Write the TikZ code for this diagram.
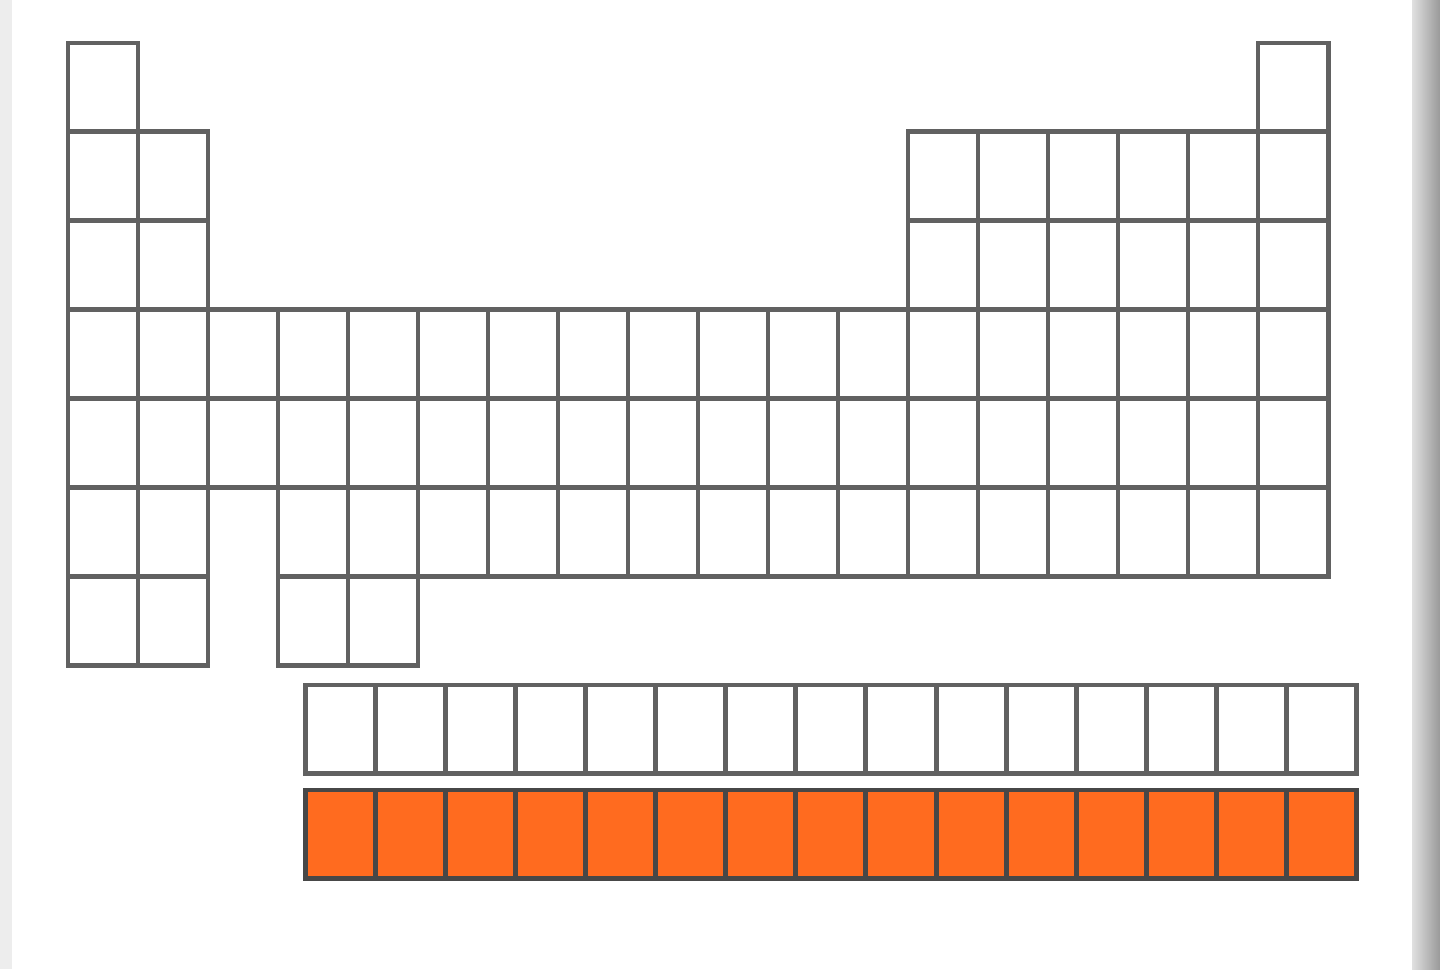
\documentclass[tikz,border=0pt]{standalone}
\usetikzlibrary{shadings}
\definecolor{actorange}{HTML}{FF6B1F}
\begin{document}
\begin{tikzpicture}
[ x=0.01cm, y=-0.01cm, line width=1.4pt
, cell/.style={rectangle, draw=black!62, fill=white, minimum width=7mm, minimum height=8.886mm, inner sep=0pt}
, fblock/.style={cell, minimum width=7.01mm, minimum height=8.8mm}
, actinide/.style={fblock, draw=black!72, fill=actorange}
]
\useasboundingbox (0,0) rectangle (1440,969);
% page and its shadow
\fill [white] (0,0) rectangle (1440,969);
\fill [black!7] (0,0) rectangle (12,969);
\shade [left color=black!12, right color=black!40] (1412,0) rectangle (1440,969);
% main table: row / first column / last column
\foreach \r/\first/\last in {1/1/1, 1/18/18, 2/1/2, 2/13/18, 3/1/2, 3/13/18,
                             4/1/18, 5/1/18, 6/1/2, 6/4/18, 7/1/2, 7/4/5}
  \foreach \c in {\first,...,\last}
    \node (cell-\r-\c) [cell] at (33+70*\c, -1.43+88.86*\r) {};
% lanthanides and actinides
\foreach \i in {1,...,15} {
  \node (lan-\i) [fblock] at (270.1+70.1*\i, 729) {};
  \node (act-\i) [actinide] at (270.1+70.1*\i, 834) {};
}
\end{tikzpicture}
\end{document}
